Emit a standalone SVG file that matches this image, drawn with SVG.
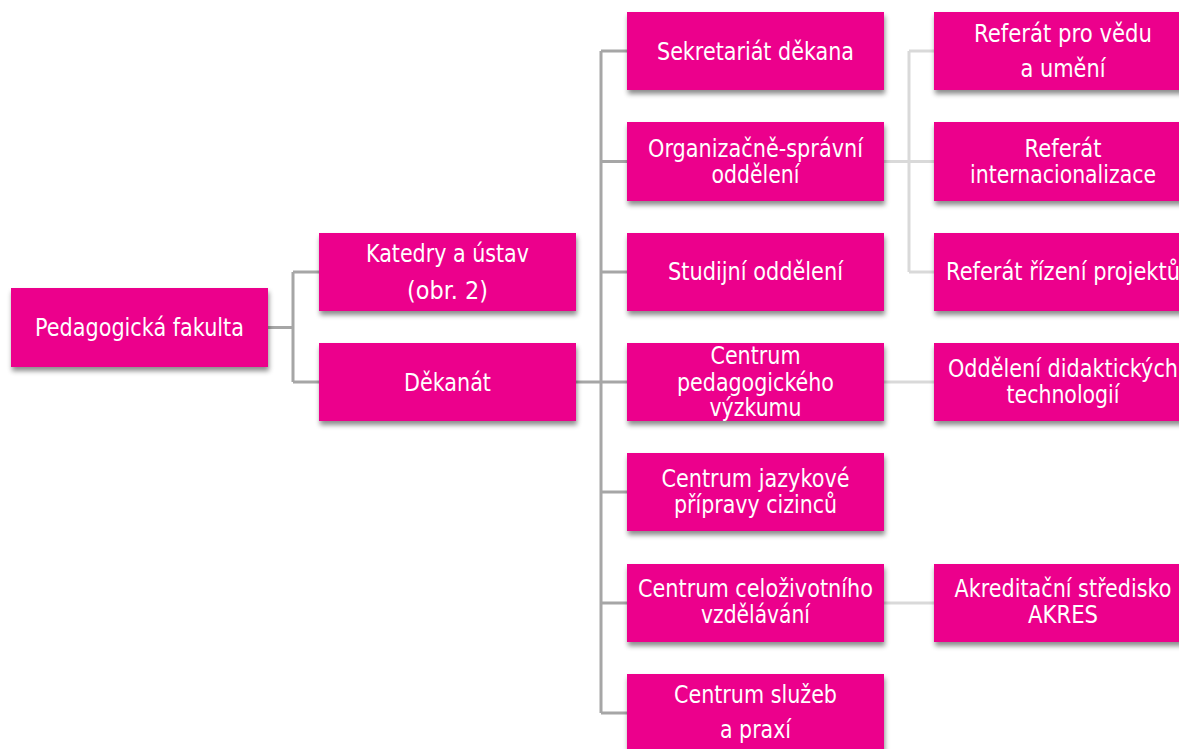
<svg xmlns="http://www.w3.org/2000/svg" width="1179" height="749" viewBox="0 0 1179 749">
<defs>
<filter id="sh" x="-10%" y="-10%" width="130%" height="140%">
<feDropShadow dx="1" dy="4" stdDeviation="2.5" flood-color="#000" flood-opacity="0.45"/>
</filter>
<style>
.box{fill:#EC008C;filter:url(#sh)}
text{font-family:"DejaVu Sans","Liberation Sans",sans-serif;font-size:24px;fill:#fff;text-anchor:middle}
.c1{fill:none;stroke:#a6a6a6;stroke-width:3}
.c2{fill:none;stroke:#d9d9d9;stroke-width:3}
</style>
</defs>
<rect width="1179" height="749" fill="#fff"/>
<g id="connectors">
<path class="c1" d="M268 327.5H293M293 272V382M293 272H319M293 382H319"/>
<path class="c1" d="M576 382H601M601 51V713M601 51H627M601 161.5H627M601 272H627M601 382H627M601 492H627M601 603H627M601 713H627"/>
<path class="c2" d="M884 161.5H909M909 51V272M909 51H934M909 161.5H934M909 272H934"/>
<path class="c2" d="M884 382H934M884 603H934"/>
</g>
<g id="n-pedf"><rect class="box" x="11" y="288" width="257" height="79"/><text x="139.5" y="336" textLength="209" lengthAdjust="spacingAndGlyphs">Pedagogická fakulta</text></g>
<g id="n-katedry"><rect class="box" x="319" y="233" width="257" height="78"/><text x="447.5" y="262" textLength="163" lengthAdjust="spacingAndGlyphs">Katedry a ústav</text><text x="447.5" y="299" textLength="81" lengthAdjust="spacingAndGlyphs">(obr. 2)</text></g>
<g id="n-dekanat"><rect class="box" x="319" y="343" width="257" height="78"/><text x="447.5" y="390.5" textLength="87" lengthAdjust="spacingAndGlyphs">Děkanát</text></g>
<g id="n-sekretariat"><rect class="box" x="627" y="12" width="257" height="78"/><text x="755.5" y="60" textLength="197" lengthAdjust="spacingAndGlyphs">Sekretariát děkana</text></g>
<g id="n-os"><rect class="box" x="627" y="122" width="257" height="79"/><text x="755.5" y="156.5" textLength="215" lengthAdjust="spacingAndGlyphs">Organizačně-správní</text><text x="755.5" y="182.5" textLength="88" lengthAdjust="spacingAndGlyphs">oddělení</text></g>
<g id="n-studijni"><rect class="box" x="627" y="233" width="257" height="78"/><text x="755.5" y="280" textLength="175" lengthAdjust="spacingAndGlyphs">Studijní oddělení</text></g>
<g id="n-cpv"><rect class="box" x="627" y="343" width="257" height="78"/><text x="755.5" y="364" textLength="90" lengthAdjust="spacingAndGlyphs">Centrum</text><text x="755.5" y="390.5" textLength="157" lengthAdjust="spacingAndGlyphs">pedagogického</text><text x="755.5" y="416" textLength="92" lengthAdjust="spacingAndGlyphs">výzkumu</text></g>
<g id="n-cjp"><rect class="box" x="627" y="453" width="257" height="78"/><text x="755.5" y="486.5" textLength="188" lengthAdjust="spacingAndGlyphs">Centrum jazykové</text><text x="755.5" y="512.5" textLength="163" lengthAdjust="spacingAndGlyphs">přípravy cizinců</text></g>
<g id="n-ccv"><rect class="box" x="627" y="564" width="257" height="78"/><text x="755.5" y="597" textLength="235" lengthAdjust="spacingAndGlyphs">Centrum celoživotního</text><text x="755.5" y="623" textLength="109" lengthAdjust="spacingAndGlyphs">vzdělávání</text></g>
<g id="n-csp"><rect class="box" x="627" y="674" width="257" height="80"/><text x="755.5" y="703" textLength="163" lengthAdjust="spacingAndGlyphs">Centrum služeb</text><text x="755.5" y="738" textLength="71" lengthAdjust="spacingAndGlyphs">a praxí</text></g>
<g id="n-rvu"><rect class="box" x="934" y="12" width="257" height="78"/><text x="1063" y="42" textLength="178" lengthAdjust="spacingAndGlyphs">Referát pro vědu</text><text x="1063" y="77" textLength="85" lengthAdjust="spacingAndGlyphs">a umění</text></g>
<g id="n-ri"><rect class="box" x="934" y="122" width="257" height="79"/><text x="1063" y="156.5" textLength="77" lengthAdjust="spacingAndGlyphs">Referát</text><text x="1063" y="182.5" textLength="186" lengthAdjust="spacingAndGlyphs">internacionalizace</text></g>
<g id="n-rrp"><rect class="box" x="934" y="233" width="257" height="78"/><text x="1063" y="280" textLength="234" lengthAdjust="spacingAndGlyphs">Referát řízení projektů</text></g>
<g id="n-odt"><rect class="box" x="934" y="343" width="257" height="78"/><text x="1063" y="377" textLength="230" lengthAdjust="spacingAndGlyphs">Oddělení didaktických</text><text x="1063" y="403" textLength="113" lengthAdjust="spacingAndGlyphs">technologií</text></g>
<g id="n-akres"><rect class="box" x="934" y="564" width="257" height="78"/><text x="1063" y="597" textLength="217" lengthAdjust="spacingAndGlyphs">Akreditační středisko</text><text x="1063" y="623" textLength="70" lengthAdjust="spacingAndGlyphs">AKRES</text></g>
</svg>
